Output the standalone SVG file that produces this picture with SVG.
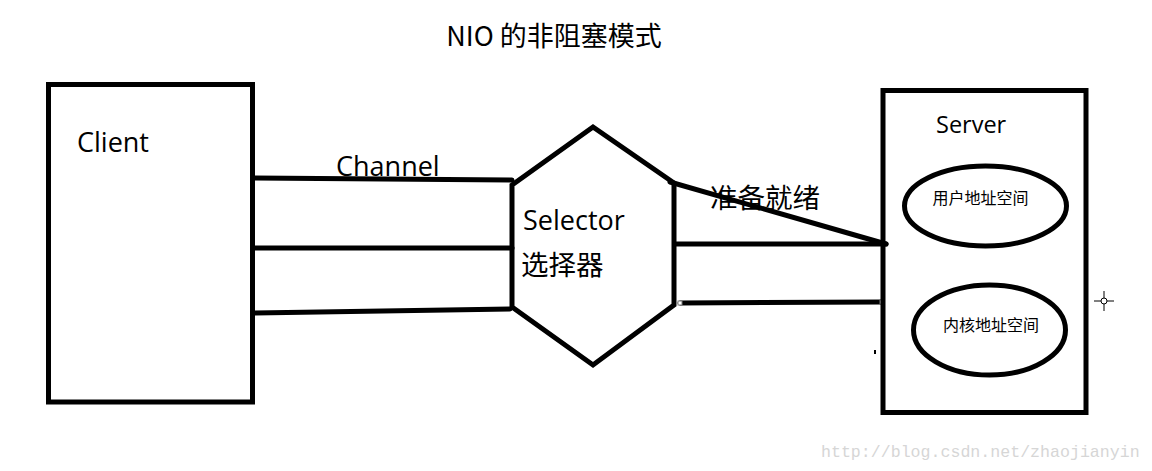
<svg xmlns="http://www.w3.org/2000/svg" width="1152" height="471" viewBox="0 0 1152 471">
<style>
.s{fill:none;stroke:#000;stroke-width:5}
.l{fill:none;stroke:#000;stroke-width:5;stroke-linecap:round}
.t{font-family:"Open Sans","Noto Sans CJK SC",sans-serif;fill:#000}
.c{font-family:"Noto Sans CJK SC","Noto Sans",sans-serif;fill:#000}
.h{fill:#fff;stroke:#777;stroke-width:1}
</style>
<rect width="1152" height="471" fill="#fff"/>
<text class="c" x="554" y="46" font-size="27" text-anchor="middle">NIO 的非阻塞模式</text>
<g id="connectors">
<path class="l" d="M255 178 L512 180"/>
<path class="l" d="M255 248 L512 248"/>
<path class="l" d="M255 313 L510 309"/>
<path class="l" d="M670 182 L886 244"/>
<path class="l" d="M675 244 L886 244"/>
<path class="l" d="M680 303 L882 302"/>
<rect class="h" x="678" y="301" width="4" height="4"/>
<rect class="h" x="880" y="300" width="4" height="4"/>
</g>
<g id="client">
<rect class="s" x="48.5" y="84.5" width="204" height="317.5"/>
<text class="t" x="77" y="152" font-size="27">Client</text>
</g>
<g id="channel-label">
<text class="t" x="336" y="176" font-size="27">Channel</text>
</g>
<g id="selector">
<polygon class="s" points="593,127 674,183 674,305 593,365 512,307 512,185"/>
<text class="t" x="523" y="230" font-size="27">Selector</text>
<text class="c" x="521" y="275" font-size="27.5">选择器</text>
</g>
<g id="ready-label">
<text class="c" x="710" y="208" font-size="27.5">准备就绪</text>
</g>
<g id="server">
<rect class="s" x="883" y="90.5" width="203" height="322"/>
<text class="t" x="936" y="133" font-size="23.5">Server</text>
</g>
<g id="user-space">
<ellipse class="s" cx="985.5" cy="206" rx="81" ry="40"/>
<text class="c" x="980.5" y="204" font-size="16" text-anchor="middle">用户地址空间</text>
</g>
<g id="kernel-space">
<ellipse class="s" cx="989.5" cy="330" rx="76" ry="45"/>
<text class="c" x="991" y="331" font-size="16" text-anchor="middle">内核地址空间</text>
</g>
<rect x="874" y="350" width="2" height="4" fill="#000"/>
<g fill="none" stroke="#000" stroke-width="1">
<path d="M1104 291 V311 M1094 301 H1114"/>
<circle cx="1104" cy="301" r="3" fill="#fff"/>
</g>
<text x="821" y="457" font-family="Liberation Mono,monospace" font-size="16.6" fill="#d6d6d6">http://blog.csdn.net/zhaojianyin</text>
</svg>
